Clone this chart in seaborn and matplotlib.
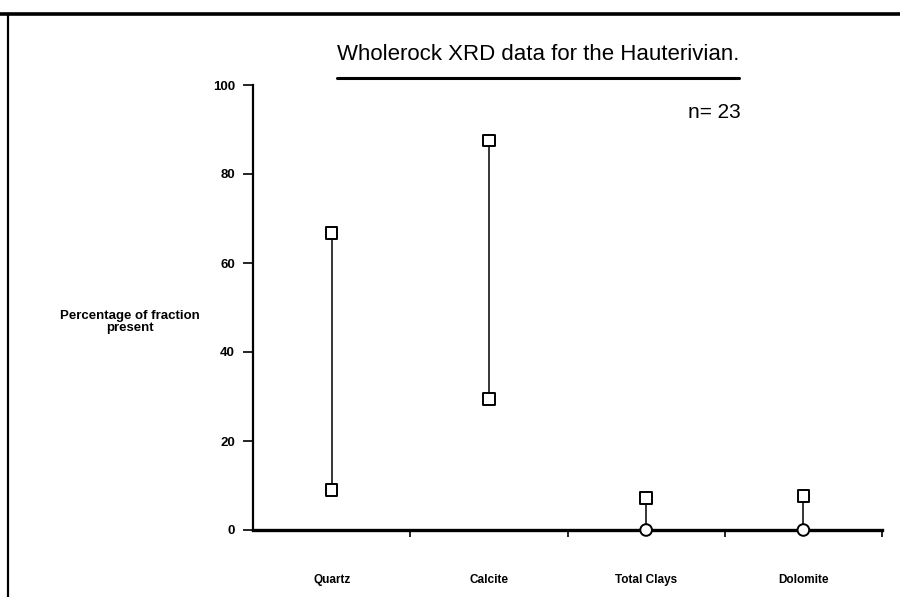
import matplotlib
matplotlib.use("Agg")
import matplotlib.pyplot as plt
import seaborn as sns
import pandas as pd
import numpy as np

# Range (min / max) of each mineral fraction, wt %
minerals = ["Quartz", "Calcite", "Total Clays", "Dolomite"]
min_values = [9.0, 29.5, 0.0, 0.0]
max_values = [66.7, 87.5, 7.2, 7.7]
y_ticks = [0, 20, 40, 60, 80, 100]
n_samples = 23

sns.set_theme(style="white")
plt.rcParams["font.family"] = ["Liberation Sans", "DejaVu Sans"]
plt.rcParams.update({"text.color": "black", "xtick.color": "black",
                     "ytick.color": "black", "axes.labelcolor": "black"})

pos = np.arange(len(minerals))
df = pd.DataFrame({
    "mineral": minerals * 2,
    "pos": list(pos) * 2,
    "value": min_values + max_values,
    "kind": ["min"] * len(minerals) + ["max"] * len(minerals),
})
df["mark"] = np.where(df["value"] <= 0, "zero", "range")

fig = plt.figure(figsize=(9.0, 5.97), dpi=100)
ax = fig.add_axes([253 / 900, 1 - 530 / 597, (882 - 253) / 900, (530 - 85) / 597])

# range bars
sns.lineplot(data=df, x="pos", y="value", units="mineral", estimator=None,
             color="black", lw=1.1, ax=ax, legend=False, sort=True)
# end points
sns.scatterplot(data=df, x="pos", y="value", style="mark",
                markers={"range": "s", "zero": "o"}, s=70,
                facecolor="white", edgecolor="black", linewidth=1.4,
                ax=ax, legend=False, zorder=5, clip_on=False)

ax.set_xlim(-0.5, len(minerals) - 0.5)
ax.set_ylim(0, 100)
ax.set_yticks(y_ticks)
ax.set_yticklabels([str(t) for t in y_ticks], fontsize=9.5, fontweight="bold")

# category boundaries carry the ticks, names sit between them
ax.set_xticks(np.arange(len(minerals)) + 0.5)
ax.set_xticklabels([])
ax.set_xticks(pos, minor=True)
ax.set_xticklabels(minerals, minor=True, fontsize=8.5, fontweight="bold")
ax.tick_params(axis="x", which="major", direction="out", length=5, width=1.2,
               color="black", bottom=True)
ax.tick_params(axis="x", which="minor", length=0, pad=32, labelcolor="black")
ax.tick_params(axis="y", direction="out", length=7, width=1.2, color="black",
               left=True, pad=6, labelcolor="black")

for side in ["top", "right"]:
    ax.spines[side].set_visible(False)
ax.spines["left"].set_linewidth(1.6)
ax.spines["bottom"].set_linewidth(2.4)
for side in ["left", "bottom"]:
    ax.spines[side].set_color("black")

ax.set_xlabel("")
ax.set_ylabel("")

fig.text(130 / 900, 1 - 322 / 597, "Percentage of fraction\npresent",
         ha="center", va="center", fontsize=9.5, fontweight="bold",
         linespacing=1.0, color="black")

# title with underline
fig.text(538 / 900, 1 - 55 / 597, "Wholerock XRD data for the Hauterivian.",
         ha="center", va="center", fontsize=16, color="black")
fig.add_artist(plt.Line2D([337 / 900, 739 / 900], [1 - 78 / 597] * 2,
                          color="black", lw=2.2))

fig.text(714 / 900, 1 - 113 / 597, f"n= {n_samples}", ha="center",
         va="center", fontsize=15, color="black")

# page frame
fig.add_artist(plt.Line2D([0, 1], [1 - 14 / 597] * 2, color="black", lw=2.6))
fig.add_artist(plt.Line2D([8 / 900] * 2, [0, 1 - 14 / 597], color="black", lw=1.6))

fig.savefig("out.png", dpi=100)
